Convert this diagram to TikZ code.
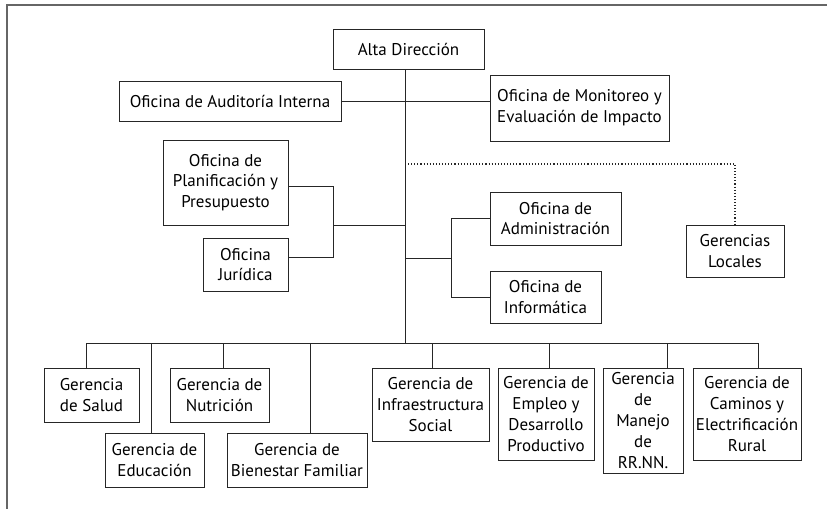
\documentclass[tikz,border=0pt]{standalone}
\usepackage{fontspec}
\setmainfont{PT Sans}
\begin{document}
\begin{tikzpicture}[x=1bp,y=-1bp,
  box/.style={draw=black!85, line width=0.9bp, inner sep=0pt, align=center,
    font=\fontsize{17bp}{20.8bp}\selectfont},
  conn/.style={draw=black!85, line width=0.9bp},
  dotconn/.style={draw=black!85, line width=1.1bp, dotted},
  frame/.style={draw=black!60, line width=1.4bp}]
\useasboundingbox (0,0) rectangle (827,509);
\draw[frame] (7,509) -- (7,5) -- (827,5);
% top part
\node[box, minimum width=151bp, minimum height=40bp] (alta) at (408.5,49) {Alta Dirección};
\node[box, minimum width=222bp, minimum height=40bp] (aud) at (230,101) {Oficina de Auditoría Interna};
\node[box, minimum width=179bp, minimum height=66bp] (mon) at (579.5,108) {Oficina de Monitoreo y\\Evaluación de Impacto};
\node[box, minimum width=125bp, minimum height=85bp] (plan) at (225.5,182.5) {Oficina de\\Planificación y\\Presupuesto};
\node[box, minimum width=85bp, minimum height=53bp] (jur) at (245.5,264.5) {Oficina\\Jurídica};
\node[box, minimum width=131bp, minimum height=53bp] (adm) at (555.5,218.5) {Oficina de\\Administración};
\node[box, minimum width=111bp, minimum height=52bp] (inf) at (545.5,297) {Oficina de\\Informática};
\node[box, minimum width=98bp, minimum height=52bp] (loc) at (735,251) {Gerencias\\Locales};
% bottom
\node[box, minimum width=95bp, minimum height=54bp] (salud) at (91.5,395) {Gerencia\\de Salud};
\node[box, minimum width=99bp, minimum height=54bp] (edu) at (154.5,460) {Gerencia de\\Educación};
\node[box, minimum width=99bp, minimum height=54bp] (nut) at (219.5,395) {Gerencia de\\Nutrición};
\node[box, minimum width=140bp, minimum height=54bp] (bien) at (297,460) {Gerencia de\\Bienestar Familiar};
\node[box, minimum width=117bp, minimum height=73bp] (infra) at (430.5,404.5) {Gerencia de\\Infraestructura\\Social};
\node[box, minimum width=96bp, minimum height=92bp] (emp) at (546,414) {Gerencia de\\Empleo y\\Desarrollo\\Productivo};
\node[box, minimum width=80bp, minimum height=105bp] (man) at (643,420.5) {Gerencia\\de\\Manejo\\de\\RR.NN.};
\node[box, minimum width=108bp, minimum height=92bp] (cam) at (747,414) {Gerencia de\\Caminos y\\Electrificación\\Rural};
% junction coordinates
\coordinate (T) at (405,343);
\coordinate (D) at (405,164);
\coordinate (P) at (333,225);
\coordinate (Q) at (451,258);
\coordinate (b1) at (86,343);
\coordinate (b2) at (151,343);
\coordinate (b3) at (223,343);
\coordinate (b4) at (310,343);
\coordinate (b5) at (432,343);
\coordinate (b6) at (549,343);
\coordinate (b7) at (667,343);
\coordinate (b8) at (758,343);
% connectors
\draw[conn] (alta.south -| T) -- (T);
\draw[conn] (aud.east) -- (aud.east -| mon.west);
\draw[dotconn] (D) -- (D -| loc.north) -- (loc.north);
\draw[conn] ([yshift=-3.5bp]plan.east) -| (P);
\draw[conn] ([yshift=7.5bp]jur.east) -| (P);
\draw[conn] (P) -- (P -| T);
\draw[conn] (adm.west) -| (Q);
\draw[conn] (inf.west) -| (Q);
\draw[conn] (Q) -- (Q -| T);
\draw[conn] (b1) -- (b8);
\foreach \b/\n in {b1/salud,b2/edu,b3/nut,b4/bien,b5/infra,b6/emp,b7/man,b8/cam}
  \draw[conn] (\b) -- (\b |- \n.north);
\end{tikzpicture}
\end{document}
